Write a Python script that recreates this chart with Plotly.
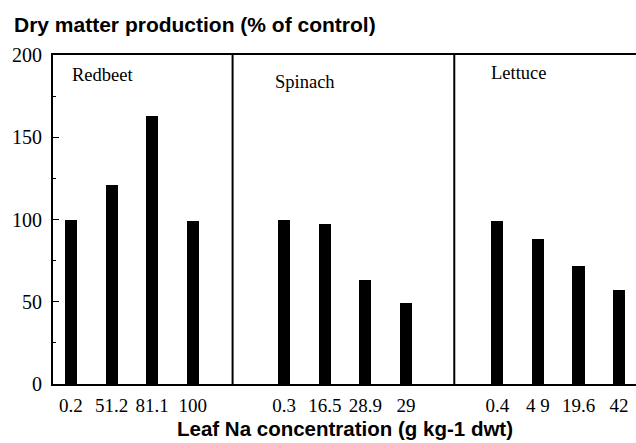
import plotly.graph_objects as go

# Crops and their leaf Na concentrations (g kg-1 dwt)
crops = ["Redbeet", "Spinach", "Lettuce"]
na_labels = [
    ["0.2", "51.2", "81.1", "100"],
    ["0.3", "16.5", "28.9", "29"],
    ["0.4", "4 9", "19.6", "42"],
]
# Dry matter production, % of control
dry_matter = [
    [100, 121, 163, 99],
    [100, 97, 63, 49],
    [99, 88, 72, 57],
]

GROUP_STEP = 5.25  # slot offset between crop panels
BAR_W = 0.3

fig = go.Figure()
tick_pos, tick_txt = [], []
for g, (crop, labels, vals) in enumerate(zip(crops, na_labels, dry_matter)):
    xs = [g * GROUP_STEP + i for i in range(len(vals))]
    tick_pos += xs
    tick_txt += labels
    fig.add_trace(go.Bar(
        x=xs, y=vals, width=BAR_W, name=crop,
        marker=dict(color="black", line=dict(width=0)),
        showlegend=False,
    ))

serif = "Liberation Serif, Times New Roman, serif"
sans = "Liberation Sans, Arial, sans-serif"

# Vertical separators between crop panels
for xd in (3.98, 9.44):
    fig.add_shape(type="line", xref="x", yref="paper", x0=xd, x1=xd, y0=0, y1=1,
                  line=dict(color="black", width=2))

# Panel names
for crop, xd, yd in zip(crops, (-0.03, 4.97, 10.3), (188, 183.5, 189)):
    fig.add_annotation(x=xd, y=yd, xref="x", yref="y", text=crop, showarrow=False,
                       xanchor="left", yanchor="middle",
                       font=dict(family=serif, size=18.5, color="black"))

fig.add_annotation(x=-0.0703, y=1.094, xref="paper", yref="paper",
                   text="<b>Dry matter production (% of control)</b>", showarrow=False,
                   xanchor="left", yanchor="middle",
                   font=dict(family=sans, size=21, color="black"))
fig.add_annotation(x=0.5, y=-0.134, xref="paper", yref="paper",
                   text="<b>Leaf Na concentration (g kg-1 dwt)</b>", showarrow=False,
                   xanchor="center", yanchor="middle",
                   font=dict(family=sans, size=20.5, color="black"))

fig.update_layout(
    width=636, height=443,
    margin=dict(l=53, r=0, t=55, b=59),
    paper_bgcolor="white", plot_bgcolor="white",
    bargap=0,
    xaxis=dict(
        range=[-0.443, 13.916], tickmode="array", tickvals=tick_pos, ticktext=tick_txt,
        ticks="", showgrid=False, zeroline=False,
        showline=True, mirror=True, linecolor="black", linewidth=2,
        tickfont=dict(family=serif, size=19, color="black"),
        ticklabelstandoff=3,
    ),
    yaxis=dict(
        range=[0, 200], tickmode="linear", tick0=0, dtick=50,
        ticks="inside", ticklen=6, tickcolor="black", tickwidth=1,
        minor=dict(dtick=25, ticks="inside", ticklen=3, tickcolor="black"),
        showgrid=False, zeroline=False,
        showline=True, linecolor="black", linewidth=2,
        tickfont=dict(family=serif, size=20, color="black"),
        ticklabelstandoff=5,
    ),
)

fig.write_html("out.html")
